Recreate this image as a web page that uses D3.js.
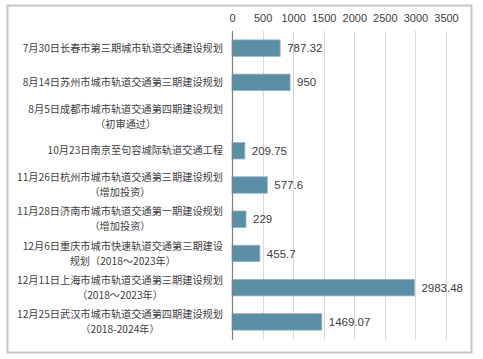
<!DOCTYPE html>
<html><head><meta charset="utf-8">
<script src="https://cdn.jsdelivr.net/npm/d3@7/dist/d3.min.js"></script>
<style>body{margin:0;background:#fff}svg{display:block}</style>
</head><body>
<svg id="c" width="483" height="359"></svg>
<script>
const categoryLines = [
  ["7月30日长春市第三期城市轨道交通建设规划"],
  ["8月14日苏州市城市轨道交通第三期建设规划"],
  ["8月5日成都市城市轨道交通第四期建设规划", "（初审通过）"],
  ["10月23日南京至句容城际轨道交通工程"],
  ["11月26日杭州市城市轨道交通第三期建设规划", "（增加投资）"],
  ["11月28日济南市城市轨道交通第一期建设规划", "（增加投资）"],
  ["12月6日重庆市城市快速轨道交通第三期建设", "规划（2018～2023年）"],
  ["12月11日上海市城市轨道交通第三期建设规划", "（2018～2023年）"],
  ["12月25日武汉市城市轨道交通第四期建设规划", "（2018-2024年）"]
];
const values = [787.32, 950, null, 209.75, 577.6, 229, 455.7, 2983.48, 1469.07];
const valueLabels = ["787.32", "950", "", "209.75", "577.6", "229", "455.7", "2983.48", "1469.07"];
const tickValues = [0, 500, 1000, 1500, 2000, 2500, 3000, 3500];

const svg = d3.select("#c");
const idx = d3.range(values.length);
const x = d3.scaleLinear().domain([0, 3500]).range([232, 446]);
const y = d3.scaleBand().domain(idx).range([31, 339]).paddingInner(0.52).paddingOuter(0.26);

// outer border
svg.append("rect").attr("x", 7.5).attr("y", 5.5).attr("width", 464).attr("height", 347)
  .attr("fill", "#fff").attr("stroke", "#c6c6c6").attr("stroke-width", 2);

// gridlines
svg.append("g").selectAll("line").data(tickValues.slice(1)).join("line")
  .attr("x1", d => Math.round(x(d)) + 0.5).attr("x2", d => Math.round(x(d)) + 0.5)
  .attr("y1", 31).attr("y2", 340).attr("stroke", "#d9d9d9").attr("stroke-width", 1);

// top axis tick labels
const ax = d3.axisTop(x).tickValues(tickValues).tickSize(0).tickPadding(0).tickFormat(d3.format("d"));
const axG = svg.append("g").attr("transform", "translate(0,22)").call(ax);
axG.select(".domain").remove();
axG.selectAll("text").attr("fill", "#404040").attr("font-family", "Arial, 'Liberation Sans', sans-serif")
  .attr("font-size", 11).attr("dy", 0);

// bars
svg.append("g").selectAll("rect").data(idx.filter(i => values[i] != null)).join("rect")
  .attr("x", x(0)).attr("y", i => y(i)).attr("width", i => x(values[i]) - x(0))
  .attr("height", y.bandwidth()).attr("fill", "#5b8fa7").attr("stroke", "#8fb3c4").attr("stroke-width", 0.8);

// value labels
svg.append("g").selectAll("text").data(idx.filter(i => values[i] != null)).join("text")
  .attr("x", i => x(values[i]) + 7).attr("y", i => y(i) + y.bandwidth() / 2).attr("dy", "0.36em")
  .attr("font-family", "Arial, 'Liberation Sans', sans-serif").attr("font-size", 11.5)
  .attr("fill", "#404040").text(i => valueLabels[i]);

// axis line at 0
svg.append("line").attr("x1", 232.5).attr("x2", 232.5).attr("y1", 31).attr("y2", 340)
  .attr("stroke", "#808080").attr("stroke-width", 1.2);

// category labels
const catG = svg.append("g").attr("font-family", "'Noto Sans CJK SC', sans-serif").attr("font-size", 10.2).attr("fill", "#404040");
idx.forEach(i => {
  const lines = categoryLines[i];
  const cy = y(i) + y.bandwidth() / 2;
  const lh = 15;
  const g = catG.append("g");
  const t0 = g.append("text").attr("x", 223).attr("y", cy - (lines.length - 1) * lh / 2)
    .attr("dy", "0.36em").attr("text-anchor", "end").text(lines[0]);
  if (lines.length > 1) {
    const w = t0.node().getComputedTextLength();
    const cx = 223 - w / 2;
    g.append("text").attr("x", cx).attr("y", cy + lh / 2).attr("dy", "0.36em")
      .attr("text-anchor", "middle").text(lines[1]);
  }
});
</script>
</body></html>
